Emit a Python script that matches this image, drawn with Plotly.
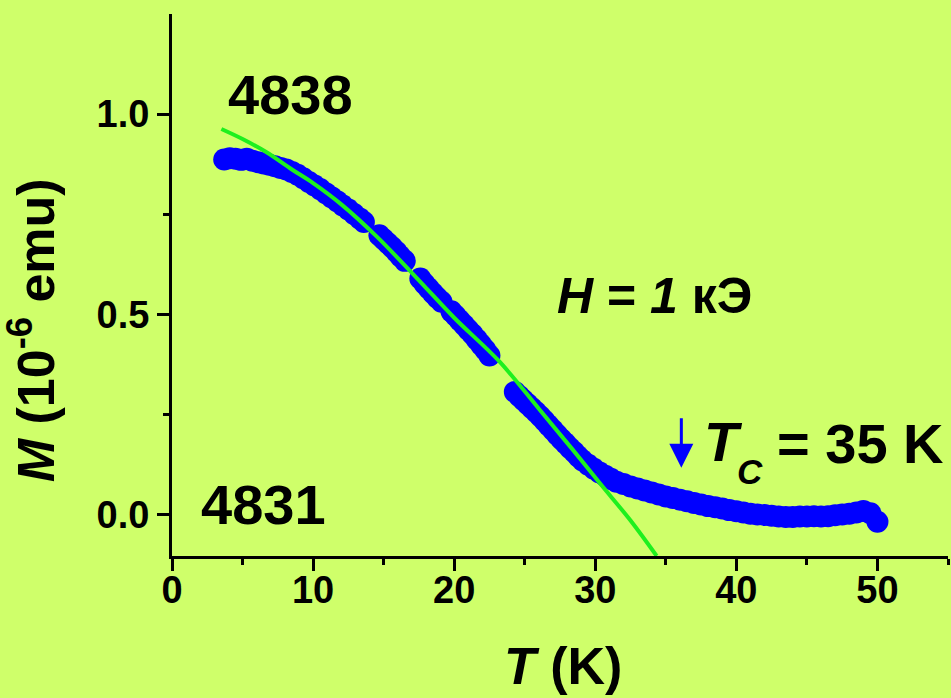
import plotly.graph_objects as go

# Measured magnetization M(T) of sample 4838 in H = 1 kOe
temperature_K = [
    3.7, 4.1, 4.5, 4.9, 5.3, 5.7, 6.1, 6.5, 6.9, 7.3, 7.7, 8.1, 8.5, 8.9, 9.3,
    9.7, 10.1, 10.5, 10.9, 11.3, 11.7, 12.1, 12.5, 12.9, 13.3, 13.6,
    14.7, 15.0, 15.3, 15.6, 15.9, 16.2, 16.5,
    17.6, 17.9, 18.2, 18.5, 18.8, 19.1,
    19.8, 20.1, 20.4, 20.7, 21.0, 21.3, 21.6, 21.9, 22.2, 22.5,
    24.3, 24.6, 24.9, 25.2, 25.5, 25.8, 26.1, 26.4, 26.7, 27.0, 27.3, 27.6,
    27.9, 28.2, 28.5, 28.8, 29.1, 29.5, 29.9, 30.3, 30.7, 31.1, 31.5, 32.0,
    32.5, 33.0, 33.5, 34.0, 34.5, 35.0, 35.5, 36.0, 36.5, 37.0, 37.5, 38.0,
    38.5, 39.0, 39.5, 40.0, 40.5, 41.0, 41.5, 42.0, 42.5, 43.0, 43.5, 44.0,
    44.5, 45.0, 45.5, 46.0, 46.5, 47.0, 47.5, 48.0, 48.5, 49.0, 49.5, 50.0,
]
magnetization = [
    0.887, 0.890, 0.889, 0.886, 0.889, 0.884, 0.880, 0.877, 0.874, 0.870,
    0.866, 0.862, 0.856, 0.849, 0.840, 0.831, 0.822, 0.813, 0.803, 0.793,
    0.783, 0.772, 0.762, 0.751, 0.740, 0.731,
    0.698, 0.688, 0.678, 0.668, 0.657, 0.645, 0.634,
    0.590, 0.577, 0.565, 0.553, 0.542, 0.532,
    0.508, 0.497, 0.485, 0.474, 0.462, 0.451, 0.438, 0.425, 0.412, 0.398,
    0.307, 0.297, 0.287, 0.277, 0.267, 0.257, 0.246, 0.235, 0.223, 0.212,
    0.200, 0.189, 0.178, 0.167, 0.157, 0.146, 0.136, 0.125, 0.115, 0.106,
    0.098, 0.090, 0.083, 0.077, 0.071, 0.066, 0.061, 0.056, 0.051, 0.046,
    0.042, 0.038, 0.034, 0.030, 0.026, 0.022, 0.019, 0.016, 0.012, 0.009,
    0.006, 0.003, 0.001, 0.000, -0.002, -0.004, -0.005, -0.005, -0.004,
    -0.004, -0.003, -0.004, -0.003, -0.001, 0.001, 0.003, 0.006, 0.010,
    0.004, -0.017,
]

# Fitted curve
fit_T = [3.5, 5.0, 6.7, 8.5, 10.0, 12.0, 14.5, 17.3, 20.0, 23.2, 26.0, 28.4,
         30.3, 32.5, 34.35]
fit_M = [0.963, 0.938, 0.905, 0.862, 0.828, 0.775, 0.695, 0.593, 0.492,
         0.383, 0.265, 0.163, 0.080, -0.014, -0.1025]

# Axis ticks
x_ticks = [0, 10, 20, 30, 40, 50]
x_tick_text = ["0", "10", "20", "30", "40", "50"]
y_ticks = [0.0, 0.5, 1.0]
y_tick_text = ["0.0", "0.5", "1.0"]

# Transition temperature marker
tc_arrow_T = 36.1
tc_arrow_top, tc_arrow_tip = 0.245, 0.1175

FONT = "Liberation Sans, Arial, sans-serif"
BG = "#cfff6a"

fig = go.Figure()
fig.add_trace(go.Scatter(
    x=temperature_K, y=magnetization, mode="markers",
    marker=dict(color="#0000ff", size=22, line=dict(width=0)),
    showlegend=False, hoverinfo="skip",
))
fig.add_trace(go.Scatter(
    x=fit_T, y=fit_M, mode="lines", line=dict(color="#1ef01e", width=4,
                                               shape="spline"),
    showlegend=False, hoverinfo="skip",
))

axis_common = dict(
    showline=True, linecolor="black", linewidth=3, mirror=False,
    showgrid=False, zeroline=False, ticks="outside", ticklen=12,
    tickwidth=3, tickcolor="black",
    tickfont=dict(family=FONT, size=38, color="black", weight="bold"),
)

fig.update_xaxes(
    range=[0, 55], tickvals=x_ticks, ticktext=x_tick_text,
    ticklabelstandoff=-14,
    minor=dict(ticks="outside", ticklen=6, tickwidth=3, tickcolor="black",
               tickvals=[5, 15, 25, 35, 45, 55]),
    **axis_common,
)
fig.update_yaxes(
    range=[-0.1025, 1.25], tickvals=y_ticks, ticktext=y_tick_text,
    minor=dict(ticks="outside", ticklen=6, tickwidth=3, tickcolor="black",
               tickvals=[0.25, 0.75]),
    **axis_common,
)

big = dict(family=FONT, size=56, color="black", weight="bold")
mid = dict(family=FONT, size=50, color="black", weight="bold")
tc_font = dict(family=FONT, size=56, color="black", weight="bold")
sub_font = dict(family=FONT, size=35, color="black", weight="bold")
title_font = dict(family=FONT, size=52, color="black", weight="bold")

annotations = [
    dict(x=8.37, y=1.05, xref="x", yref="y", text="4838", showarrow=False,
         font=big, xanchor="center", yanchor="middle"),
    dict(x=6.5, y=0.025, xref="x", yref="y", text="4831", showarrow=False,
         font=big, xanchor="center", yanchor="middle"),
    dict(x=34.2, y=0.5475, xref="x", yref="y",
         text="<i>H</i> = <i>1</i> кЭ", showarrow=False, font=mid,
         xanchor="center", yanchor="middle"),
    # T_C = 35 K, with a large lowered subscript
    dict(x=37.55, y=0.182, xref="x", yref="y", text="<i>T</i>",
         showarrow=False, font=tc_font, xanchor="left", yanchor="middle"),
    dict(x=39.9, y=0.108, xref="x", yref="y", text="<i>C</i>",
         showarrow=False, font=sub_font, xanchor="left", yanchor="middle"),
    dict(x=54.85, y=0.178, xref="x", yref="y", text="= 35 K",
         showarrow=False, font=tc_font, xanchor="right", yanchor="middle"),
    dict(x=tc_arrow_T, y=tc_arrow_tip, ax=tc_arrow_T, ay=tc_arrow_top,
         xref="x", yref="y", axref="x", ayref="y", text="", showarrow=True,
         arrowcolor="#0000ff", arrowwidth=3, arrowhead=2, arrowsize=1.6),
    dict(x=0.504, y=-0.203, xref="paper", yref="paper",
         text="<i>T</i> (K)", showarrow=False, font=title_font,
         xanchor="center", yanchor="middle"),
    dict(x=-0.18, y=0.417, xref="paper", yref="paper",
         text="<i>M</i> (10<sup>-6</sup> emu)", showarrow=False,
         font=title_font, textangle=-90, xanchor="center", yanchor="middle"),
]

fig.update_layout(
    width=951, height=698,
    margin=dict(l=172, r=3, t=14, b=142, pad=0),
    paper_bgcolor=BG, plot_bgcolor=BG,
    annotations=annotations,
    font=dict(family=FONT),
)

fig.write_html("out.html")
